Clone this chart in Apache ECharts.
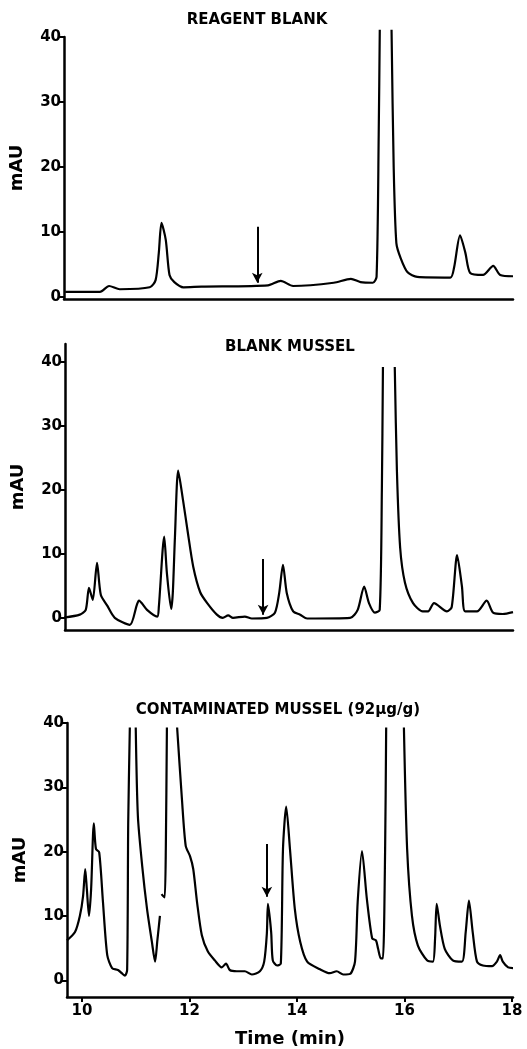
<!DOCTYPE html>
<html><head><meta charset="utf-8">
<script src="https://cdn.jsdelivr.net/npm/echarts@6/dist/echarts.min.js"></script>
<style>html,body{margin:0;padding:0;background:#fff}#c{width:527px;height:1049px}</style>
</head><body><div id="c"></div>
<script>
// Panel titles
const titles = ['REAGENT BLANK', 'BLANK MUSSEL', 'CONTAMINATED MUSSEL (92µg/g)'];
const yTicks = [0, 10, 20, 30, 40];
const xTicks = [10, 12, 14, 16, 18];
const xAxisName = 'Time (min)';
const yAxisName = 'mAU';

// Panel 1: reagent blank (time in min, absorbance in mAU; null = off-scale gap)
const p1Time = [9.65,10.30,10.47,10.67,11.23,11.34,11.40,11.45,11.53,11.60,11.69,11.86,12.20,13.44,13.68,13.91,14.67,14.99,15.17,15.40,15.47,15.51,15.53,15.64,15.75,15.79,15.84,15.92,16.05,16.23,16.85,16.92,17.03,17.13,17.22,17.46,17.65,17.78,18.02];
const p1Value = [0.8,0.8,1.7,1.2,1.5,2.6,6.8,11.4,8.8,3.4,2.3,1.5,1.6,1.8,2.5,1.7,2.2,2.8,2.3,2.2,3.1,25,41.1,null,41.1,20,8.3,6.0,3.8,3.1,3.0,4.6,9.5,6.8,3.7,3.4,4.8,3.4,3.2];
const p1Arrow = [[13.24, 10.8], [13.24, 2.2]];

// Panel 2: blank mussel
const p2Time = [9.67,9.96,10.07,10.13,10.20,10.28,10.35,10.47,10.61,10.89,11.02,11.06,11.21,11.40,11.43,11.53,11.58,11.66,11.69,11.73,11.79,11.88,11.97,12.07,12.20,12.33,12.51,12.62,12.72,12.81,13.03,13.16,13.44,13.59,13.67,13.74,13.81,13.93,14.06,14.19,14.99,15.13,15.25,15.34,15.45,15.54,15.58,15.60,15.70,15.82,15.86,15.92,16.01,16.16,16.34,16.44,16.55,16.79,16.88,16.98,17.07,17.13,17.35,17.53,17.65,17.83,18.02];
const p2Value = [0.05,0.5,1.25,4.7,2.8,8.6,3.6,1.9,0,-1.1,2.0,2.7,1.25,0.2,1.7,12.7,7.0,1.4,3.9,12.7,23.0,18.4,13.3,8.0,4.0,2.3,0.5,0,0.4,0,0.2,-0.1,0,0.8,3.9,8.3,3.9,1.0,0.5,-0.1,0,1.25,4.9,2.3,0.8,1.25,20,39.2,null,39.2,23,11,5.5,2.3,1.0,1.0,2.3,1.0,1.7,9.8,4.9,1.0,1.0,2.7,0.8,0.6,0.9];
const p2Arrow = [[13.37, 9.2], [13.37, 0.5]];

// Panel 3: contaminated mussel
const p3Time = [9.72,9.87,9.96,10.02,10.06,10.09,10.13,10.17,10.22,10.26,10.32,10.39,10.47,10.56,10.67,10.74,10.80,10.84,10.86,10.89,10.95,11.00,11.04,11.12,11.21,11.30,11.36,11.40,11.45,11.47,11.48,11.51,11.54,11.56,11.58,11.70,11.77,11.86,11.93,12.01,12.07,12.14,12.23,12.34,12.47,12.60,12.68,12.75,12.88,13.03,13.16,13.31,13.39,13.44,13.46,13.52,13.55,13.63,13.70,13.74,13.80,13.87,13.96,14.06,14.19,14.43,14.61,14.74,14.86,14.99,15.08,15.13,15.21,15.30,15.40,15.47,15.51,15.56,15.60,15.64,15.66,15.80,15.99,16.05,16.14,16.25,16.42,16.53,16.57,16.60,16.66,16.75,16.90,17.07,17.14,17.20,17.27,17.35,17.46,17.63,17.72,17.78,17.83,17.93,18.02];
const p3Value = [6.2,7.5,10.0,13.1,17.3,14.2,10.0,14.2,24.4,20.4,19.9,12.2,3.9,1.9,1.6,1.1,0.7,1.6,24.5,39.3,null,39.3,25.5,17.8,11.1,6.0,2.9,6.0,10.0,null,13.4,13.1,12.9,20.6,39.3,null,39.3,28.1,20.9,19.3,17.3,12.2,7.0,4.5,3.1,2.0,2.6,1.6,1.4,1.4,0.9,1.4,2.9,7.3,11.9,7.5,3.1,2.3,2.6,20.4,27.0,20.4,11.1,6.0,2.9,1.7,1.1,1.4,0.9,1.0,2.9,12.2,20.1,12.7,6.5,6.2,4.9,3.4,3.4,20,39.3,null,39.3,20.4,10.0,5.4,3.1,2.9,6.5,11.9,8.5,4.9,3.1,2.9,7.5,12.4,7.5,2.9,2.3,2.2,2.9,3.9,2.9,2.0,1.9];
const p3Arrow = [[13.44, 21.2], [13.44, 13.0]];

const FONT = '"DejaVu Sans", "Liberation Sans", sans-serif';
const pair = (t, v) => t.map((x, i) => [x, v[i]]);

const panels = [
  {t: p1Time, v: p1Value, arrow: p1Arrow, grid: {left: 62, right: 14, top: 37, bottom: 750}, xMin: 9.628, yMin: -0.3, yMax: 40, clip: false, labels: false},
  {t: p2Time, v: p2Value, arrow: p2Arrow, grid: {left: 65, right: 14, top: 344, bottom: 419}, xMin: 9.684, yMin: -1.9, yMax: 42.8, clip: true, labels: false},
  {t: p3Time, v: p3Value, arrow: p3Arrow, grid: {left: 67, right: 14, top: 723, bottom: 50}, xMin: 9.721, yMin: -2.6, yMax: 40, clip: true, labels: true}
];

const axisLine = {show: true, onZero: false, lineStyle: {color: '#000', width: 2.5}};
const option = {
  animation: false,
  backgroundColor: '#fff',
  grid: panels.map(p => p.grid),
  xAxis: panels.map((p, i) => ({
    type: 'value', gridIndex: i, min: p.xMin, max: 18.02,
    axisLine: axisLine,
    splitLine: {show: false},
    axisTick: {show: p.labels, customValues: xTicks, length: 5, lineStyle: {color: '#000', width: 2}},
    axisLabel: {show: p.labels, customValues: xTicks, color: '#000', fontFamily: FONT, fontWeight: 'bold', fontSize: 15, margin: 7},
    name: p.labels ? xAxisName : '', nameLocation: 'middle', nameGap: 33,
    nameTextStyle: {color: '#000', fontFamily: FONT, fontWeight: 'bold', fontSize: 18}
  })),
  yAxis: panels.map((p, i) => ({
    type: 'value', gridIndex: i, min: p.yMin, max: p.yMax,
    axisLine: axisLine,
    splitLine: {show: false},
    axisTick: {show: true, customValues: yTicks, length: 5, lineStyle: {color: '#000', width: 2}},
    axisLabel: {show: true, customValues: yTicks, color: '#000', fontFamily: FONT, fontWeight: 'bold', fontSize: 15, margin: 3},
    name: yAxisName, nameLocation: 'middle', nameRotate: 90, nameGap: 38,
    nameTextStyle: {color: '#000', fontFamily: FONT, fontWeight: 'bold', fontSize: 18}
  })),
  series: panels.map((p, i) => ({
    type: 'line', xAxisIndex: i, yAxisIndex: i,
    data: pair(p.t, p.v), showSymbol: false, symbol: 'none', connectNulls: false,
    smooth: 0.25,
    clip: p.clip,
    lineStyle: {color: '#000', width: 2.2},
    markLine: {
      silent: true, symbol: ['none', 'arrow'], symbolSize: [8, 10],
      label: {show: false},
      lineStyle: {color: '#000', width: 2, type: 'solid'},
      data: [[{coord: p.arrow[0]}, {coord: p.arrow[1]}]]
    }
  })),
  graphic: [
    {type: 'text', x: 257, y: 20, style: {text: titles[0], textAlign: 'center', textVerticalAlign: 'middle', fill: '#000', font: 'bold 15px ' + FONT}},
    {type: 'text', x: 290, y: 347, style: {text: titles[1], textAlign: 'center', textVerticalAlign: 'middle', fill: '#000', font: 'bold 15px ' + FONT}},
    {type: 'text', x: 278, y: 710, style: {text: titles[2], textAlign: 'center', textVerticalAlign: 'middle', fill: '#000', font: 'bold 15px ' + FONT}}
  ]
};
echarts.init(document.getElementById('c')).setOption(option);
</script></body></html>
